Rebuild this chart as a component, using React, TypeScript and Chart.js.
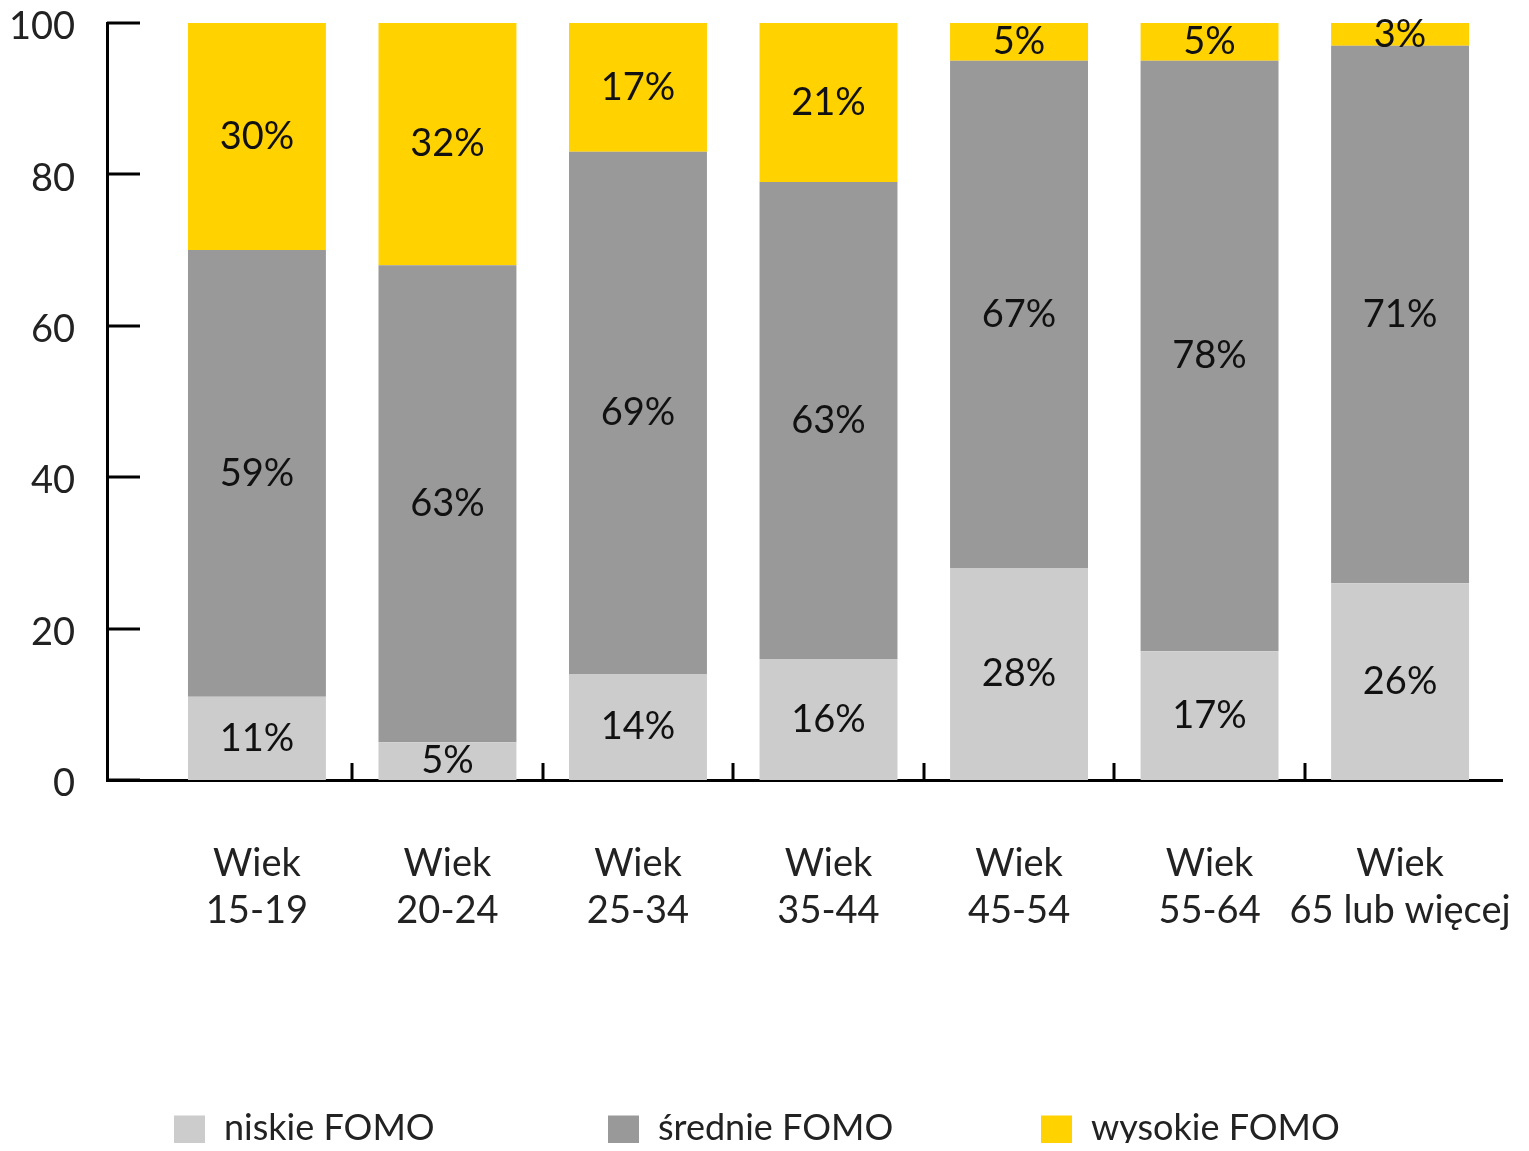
import { useEffect, useRef } from 'react';
import { Chart, registerables } from 'chart.js';

Chart.register(...registerables);

const categoryLines: string[][] = [
  ['Wiek', '15-19'],
  ['Wiek', '20-24'],
  ['Wiek', '25-34'],
  ['Wiek', '35-44'],
  ['Wiek', '45-54'],
  ['Wiek', '55-64'],
  ['Wiek', '65 lub więcej'],
];
const niskie = [11, 5, 14, 16, 28, 17, 26];
const srednie = [59, 63, 69, 63, 67, 78, 71];
const wysokie = [30, 32, 17, 21, 5, 5, 3];
const seriesNames = ['niskie FOMO', 'średnie FOMO', 'wysokie FOMO'];
const seriesColors = ['#CCCCCC', '#999999', '#FFD200'];
const yTicks = [0, 20, 40, 60, 80, 100];

const FONT = 'Lato, "Noto Sans", sans-serif';

const decorPlugin = {
  id: 'decor',
  afterDatasetsDraw(chart: any) {
    const { ctx, chartArea } = chart;
    const x = chart.scales.x;
    const y = chart.scales.y;
    ctx.save();
    ctx.strokeStyle = '#000';
    ctx.lineWidth = 3;
    yTicks.forEach((v) => {
      const py = Math.round(y.getPixelForValue(v));
      ctx.beginPath();
      ctx.moveTo(chartArea.left, py);
      ctx.lineTo(chartArea.left + 33, py);
      ctx.stroke();
    });
    for (let i = 0; i < categoryLines.length - 1; i++) {
      const px = Math.round(x.getPixelForValue(i + 0.5));
      ctx.beginPath();
      ctx.moveTo(px, chartArea.bottom);
      ctx.lineTo(px, chartArea.bottom - 17);
      ctx.stroke();
    }
    ctx.font = `38px ${FONT}`;
    ctx.fillStyle = '#111';
    ctx.textAlign = 'center';
    ctx.textBaseline = 'middle';
    chart.data.datasets.forEach((ds: any, di: number) => {
      const meta = chart.getDatasetMeta(di);
      meta.data.forEach((bar: any, i: number) => {
        const v = ds.data[i].y;
        const p = bar.getProps(['x', 'y', 'base'], true);
        ctx.fillText(`${v}%`, p.x, (p.y + p.base) / 2);
      });
    });
    ctx.restore();
  },
  afterDraw(chart: any) {
    // legend
    const { ctx } = chart;
    ctx.save();
    const cy = 1120;
    const startX = 166;
    const step = 433.5;
    const box = 31;
    ctx.font = `36px ${FONT}`;
    ctx.textAlign = 'left';
    ctx.textBaseline = 'middle';
    chart.data.datasets.forEach((ds: any, di: number) => {
      const bx = Math.round(startX + di * step);
      ctx.fillStyle = ds.backgroundColor;
      ctx.fillRect(bx, cy - box / 2 + 3, box, box);
      ctx.fillStyle = '#222';
      ctx.fillText(ds.label, bx + box + 19, cy);
    });
    ctx.restore();
  },
};

export default function App() {
  const ref = useRef<HTMLCanvasElement | null>(null);

  useEffect(() => {
    if (!ref.current) return;
    const series = [niskie, srednie, wysokie];
    const chart = new Chart(ref.current, {
      type: 'bar',
      data: {
        datasets: series.map((vals, si) => ({
          label: seriesNames[si],
          data: vals.map((v, i) => ({ x: i, y: v })),
          backgroundColor: seriesColors[si],
          borderWidth: 0,
          categoryPercentage: 1,
          barPercentage: 0.724,
        })),
      },
      options: {
        animation: false,
        responsive: true,
        maintainAspectRatio: false,
        layout: { padding: { top: 15, right: 19, bottom: 203, left: 0 } },
        plugins: {
          tooltip: { enabled: false },
          legend: { display: false },
        },
        scales: {
          x: {
            type: 'linear',
            stacked: true,
            offset: false,
            min: -0.787,
            max: 6.535,
            grid: { display: false, drawTicks: false },
            border: { display: true, color: '#000', width: 3 },
            ticks: {
              stepSize: 1,
              includeBounds: false,
              autoSkip: false,
              maxRotation: 0,
              minRotation: 0,
              padding: 60,
              color: '#222',
              font: { family: FONT, size: 38, lineHeight: 1.24 },
              callback: (value: any) => {
                const idx = Math.round(Number(value));
                return categoryLines[idx] ?? '';
              },
            },
            afterFit: (s: any) => {
              s.height = 168;
              s.paddingLeft = 0;
              s.paddingRight = 0;
            },
          },
          y: {
            stacked: true,
            min: 0,
            max: 100,
            grid: { display: false, drawTicks: false },
            border: { display: true, color: '#000', width: 3 },
            ticks: {
              stepSize: 20,
              padding: 32,
              labelOffset: 4,
              color: '#222',
              font: { family: FONT, size: 38 },
            },
            afterFit: (s: any) => {
              s.width = 99;
              s.paddingTop = 0;
              s.paddingBottom = 0;
            },
          },
        },
      },
      plugins: [decorPlugin],
    } as any);
    return () => chart.destroy();
  }, []);

  return (
    <div style={{ position: 'relative', width: '100%', height: '1143px', marginBottom: '-8px' }}>
      <canvas ref={ref} />
    </div>
  );
}
